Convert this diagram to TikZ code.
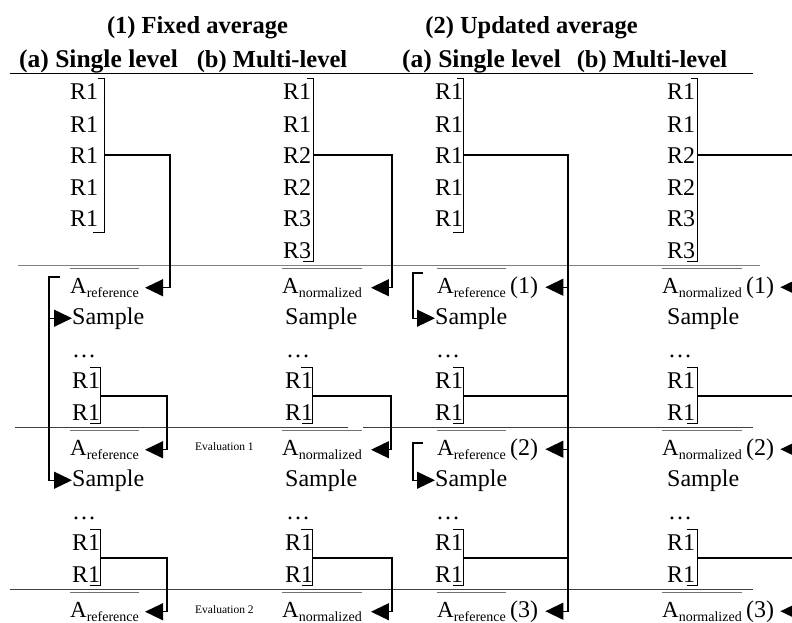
\documentclass[tikz,border=0pt]{standalone}
\usepackage{fontspec}
\setmainfont{Liberation Serif}
\usetikzlibrary{arrows.meta}
\newcommand\subtxt[1]{\raisebox{-4.5pt}{\fontsize{14}{15}\selectfont #1}}
\begin{document}
\begin{tikzpicture}[x=1pt,y=-1pt,
  rtxt/.style={anchor=base west,inner sep=0pt,font=\fontsize{24}{24}\selectfont},
  atxt/.style={anchor=base west,inner sep=0pt,font=\fontsize{23}{23}\selectfont},
  hdr/.style={anchor=base,inner sep=0pt,font=\fontsize{24.5}{25}\selectfont\bfseries},
  hdrw/.style={anchor=base,inner sep=0pt,font=\fontsize{25.5}{26}\selectfont\bfseries},
  evl/.style={anchor=base west,inner sep=0pt,font=\fontsize{11.5}{12}\selectfont},
  conn/.style={line width=1.3pt},
  arr/.style={conn,-{Triangle[length=18pt,width=17pt]}},
  brk/.style={line width=1pt},
  sepa/.style={line width=1pt,black!50},
  sepb/.style={line width=1pt,black!75},
  ovl/.style={line width=1pt,black!55}
]
\useasboundingbox (0,0) rectangle (792,622);

% titles and headers
\node[hdr] (t1) at (197.5,33) {(1) Fixed average};
\node[hdr] (t2) at (531.5,33) {(2) Updated average};
\node[hdrw] (h1) at (98.5,67) {(a) Single level};
\node[hdr] (h2) at (272,67) {(b) Multi-level};
\node[hdrw] (h3) at (481.5,67) {(a) Single level};
\node[hdr] (h4) at (652,67) {(b) Multi-level};
\draw[line width=1pt] (10,73) -- (753,73);

% separators
\draw[sepa] (18,265) -- (760,265);
\draw[sepb] (15,427) -- (348,427);
\draw[sepb] (363,427) -- (753,427);
\draw[sepb] (10,589) -- (753,589);

% top block rows
\foreach \t/\y [count=\i] in {R1/99,R1/132,R1/163.5,R1/195,R1/226.5}{
  \node[rtxt] (ta\i) at (70,\y) {\t};
  \node[rtxt] (tp\i) at (435,\y) {\t};
}
\foreach \t/\y [count=\i] in {R1/99,R1/132,R2/163.5,R2/195,R3/226.5,R3/258}{
  \node[rtxt] (tb\i) at (283,\y) {\t};
  \node[rtxt] (tq\i) at (667,\y) {\t};
}
\draw[brk] (98,78) -- (104,78) -- (104,232) -- (93,232);
\draw[brk] (307,78) -- (313,78) -- (313,261) -- (303,261);
\draw[brk] (457,78) -- (463,78) -- (463,232) -- (453,232);
\draw[brk] (691,78) -- (697,78) -- (697,261) -- (687,261);
\coordinate (ca1) at (104,155);
\coordinate (cb1) at (313,155);
\coordinate (cp1) at (463,155);
\coordinate (cq1) at (697,155);

% A rows
\foreach \k/\o in {1/0,2/162,3/324}{
  \coordinate (ov\k) at (0,268+\o);
  \node[atxt] (Aa\k) at (70,293+\o) {A\subtxt{reference}};
  \node[atxt] (Ab\k) at (282,293+\o) {A\subtxt{normalized}};
  \node[atxt] (Ap\k) at (437,293+\o) {A\subtxt{reference}};
  \node[rtxt] (Pp\k) at (510,293+\o) {(\k)};
  \node[atxt] (Aq\k) at (662,293+\o) {A\subtxt{normalized}};
  \node[rtxt] (Pq\k) at (746,293+\o) {(\k)};
  \draw[ovl] (Aa\k.west |- ov\k) -- (Aa\k.east |- ov\k);
  \draw[ovl] (Ab\k.west |- ov\k) -- (Ab\k.east |- ov\k);
  \draw[ovl] (Ap\k.west |- ov\k) -- (Ap\k.east |- ov\k);
  \draw[ovl] (Aq\k.west |- ov\k) -- (Aq\k.east |- ov\k);
}

% lower blocks
\foreach \k/\o in {2/0,3/162}{
  \node[rtxt] (Sa\k) at (72,324+\o) {Sample};
  \node[rtxt] (Da\k) at (72,357+\o) {…};
  \node[rtxt] (Ra\k-1) at (72,388+\o) {R1};
  \node[rtxt] (Ra\k-2) at (72,420+\o) {R1};
  \draw[brk] (90,367+\o) -- (100,367+\o) -- (100,423+\o) -- (90,423+\o);
  \coordinate (ca\k) at (100,396+\o);
  \node[rtxt] (Sb\k) at (285,324+\o) {Sample};
  \node[rtxt] (Db\k) at (286,357+\o) {…};
  \node[rtxt] (Rb\k-1) at (285,388+\o) {R1};
  \node[rtxt] (Rb\k-2) at (285,420+\o) {R1};
  \draw[brk] (301,367+\o) -- (312,367+\o) -- (312,423+\o) -- (302,423+\o);
  \coordinate (cb\k) at (312,396+\o);
  \node[rtxt] (Sp\k) at (435,324+\o) {Sample};
  \node[rtxt] (Dp\k) at (436,357+\o) {…};
  \node[rtxt] (Rp\k-1) at (435,388+\o) {R1};
  \node[rtxt] (Rp\k-2) at (435,420+\o) {R1};
  \draw[brk] (453,367+\o) -- (463,367+\o) -- (463,423+\o) -- (453,423+\o);
  \coordinate (cp\k) at (463,396+\o);
  \node[rtxt] (Sq\k) at (667,324+\o) {Sample};
  \node[rtxt] (Dq\k) at (668,357+\o) {…};
  \node[rtxt] (Rq\k-1) at (667,388+\o) {R1};
  \node[rtxt] (Rq\k-2) at (667,420+\o) {R1};
  \draw[brk] (687,367+\o) -- (697,367+\o) -- (697,423+\o) -- (687,423+\o);
  \coordinate (cq\k) at (697,396+\o);
}

\node[evl] (ev1) at (195,450) {Evaluation 1};
\node[evl] (ev2) at (195,613) {Evaluation 2};

% fixed average connectors
\draw[arr] (ca1) -- (170,0 |- ca1) -- (170,0 |- Aa1.east) -- ([xshift=6pt]Aa1.east);
\draw[arr] (ca2) -- (167,0 |- ca2) -- (167,0 |- Aa2.east) -- ([xshift=6pt]Aa2.east);
\draw[arr] (ca3) -- (167,0 |- ca3) -- (167,0 |- Aa3.east) -- ([xshift=6pt]Aa3.east);
\draw[arr] (cb1) -- (392,0 |- cb1) -- (392,0 |- Ab1.east) -- ([xshift=9pt]Ab1.east);
\draw[arr] (cb2) -- (391,0 |- cb2) -- (391,0 |- Ab2.east) -- ([xshift=9pt]Ab2.east);
\draw[arr] (cb3) -- (392,0 |- cb3) -- (392,0 |- Ab3.east) -- ([xshift=9pt]Ab3.east);

% feedback of the reference to the samples
\coordinate (fa) at (60,277);
\draw[arr] (fa) -- (49,0 |- fa) -- (49,0 |- Sa3.west) -- (Sa3.west);
\draw[arr] (49,0 |- Sa2.west) -- (Sa2.west);
\coordinate (fp2) at (423,273);
\coordinate (fp3) at (423,443);
\draw[arr] (fp2) -- (413,0 |- fp2) -- (413,0 |- Sp2.west) -- (Sp2.west);
\draw[arr] (fp3) -- (413,0 |- fp3) -- (413,0 |- Sp3.west) -- (Sp3.west);

% updated average connectors
\draw[arr] (cp1) -- (568,0 |- cp1) -- (568,0 |- Pp3.east) -- ([xshift=7pt]Pp3.east);
\draw[arr] (568,0 |- Pp1.east) -- ([xshift=7pt]Pp1.east);
\draw[arr] (568,0 |- Pp2.east) -- ([xshift=7pt]Pp2.east);
\draw[conn] (cp2) -- (568,0 |- cp2);
\draw[conn] (cp3) -- (568,0 |- cp3);
\draw[arr] (cq1) -- (794,0 |- cq1) -- (794,0 |- Pq3.east) -- ([xshift=6pt]Pq3.east);
\draw[arr] (794,0 |- Pq1.east) -- ([xshift=6pt]Pq1.east);
\draw[arr] (794,0 |- Pq2.east) -- ([xshift=6pt]Pq2.east);
\draw[conn] (cq2) -- (794,0 |- cq2);
\draw[conn] (cq3) -- (794,0 |- cq3);
\end{tikzpicture}
\end{document}
